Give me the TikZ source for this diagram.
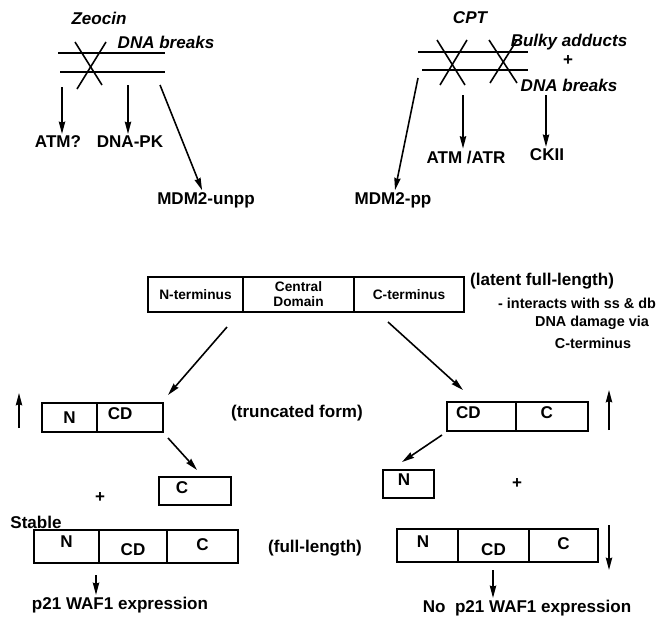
\documentclass[tikz,border=0pt]{standalone}
\usepackage{fontspec}
\setmainfont{Liberation Sans}
\usetikzlibrary{positioning,arrows.meta}

\newcommand{\unitpx}{0.02cm}

\tikzset{
  lbl/.style={font=\fontsize{9.7}{11}\selectfont\bfseries, inner sep=1pt},
  agent/.style={font=\fontsize{9.7}{11}\selectfont\bfseries\itshape, inner sep=1pt},
  note/.style={font=\fontsize{8.2}{10}\selectfont\bfseries, inner sep=1pt},
  seg/.style={draw, line width=1.1pt, inner sep=0pt, outer sep=0pt,
    font=\fontsize{9.7}{11}\selectfont\bfseries},
  domseg/.style={seg, minimum height=35*\unitpx, align=center,
    font=\fontsize{7.8}{8.6}\selectfont\bfseries},
  strand/.style={line width=0.9pt},
  arr/.style={line width=0.9pt, -{Stealth[length=7pt,width=3.6pt,inset=0.6pt]}},
}

\begin{document}
\begin{tikzpicture}[x=\unitpx, y=-\unitpx]
  \useasboundingbox (0,0) rectangle (662,622);

  % zeocin: double strand break
  \node[agent] (zeo) at (99,18) {Zeocin};
  \node[agent] (brkL) at (166,42) {DNA breaks};
  \draw[strand] (58,53) -- (165,53);
  \draw[strand] (60,72) -- (165,72);
  \draw[strand] (75,42) -- (102,85);
  \draw[strand] (106,42) -- (77,89);

  \coordinate (atmS) at (62,87);
  \coordinate (pkS) at (128,85);
  \coordinate (unppS) at (160,85);
  \node[lbl] (atm) at (58,142) {ATM?};
  \node[lbl] (pk) at (130,142) {DNA-PK};
  \node[lbl] (unpp) at (206,200) {MDM2-unpp};
  \draw[arr] (atmS) -- (atmS |- atm.north);
  \draw[arr] (pkS) -- (pkS |- pk.north);
  \draw[arr] (unppS) -- (unpp);

  % CPT: adducts and breaks
  \node[agent] (cpt) at (470,18) {CPT};
  \node[agent] (bulky) at (569,42) {Bulky adducts};
  \node[lbl] (andR) at (568,61) {+};
  \node[agent] (brkR) at (569,85) {DNA breaks};
  \draw[strand] (418,52) -- (528,52);
  \draw[strand] (422,70) -- (528,70);
  \draw[strand] (437,40) -- (465,85);
  \draw[strand] (467,40) -- (440,85);
  \draw[strand] (489,40) -- (517,83);
  \draw[strand] (517,40) -- (490,83);

  \coordinate (ppS) at (418,78);
  \coordinate (atrS) at (463,95);
  \coordinate (ckS) at (546,95);
  \node[lbl] (pp) at (393,200) {MDM2-pp};
  \node[lbl] (atr) at (466,157) {ATM /ATR};
  \node[lbl] (ck) at (547,155) {CKII};
  \draw[arr] (ppS) -- (pp);
  \draw[arr] (atrS) -- (atrS |- atr.north);
  \draw[arr] (ckS) -- (ckS |- ck.north);

  % latent full-length protein
  \node[domseg, minimum width=95*\unitpx, anchor=west] (fN) at (148,294.5) {N-terminus};
  \node[domseg, minimum width=111*\unitpx, right=0pt of fN] (fCD) {Central\\Domain};
  \node[domseg, minimum width=110*\unitpx, right=0pt of fCD] (fC) {C-terminus};
  \node[lbl, anchor=west] (latent) at (468,281) {(latent full-length)};
  \node[note, anchor=east] (inter) at (658,303) {- interacts with ss \& db};
  \node[note] (dmg) at (592,323) {DNA damage via};
  \node[note] (viaC) at (593,343) {C-terminus};

  \coordinate (splitL) at (227,327);
  \coordinate (splitLe) at (168,395);
  \coordinate (splitR) at (388,322);
  \coordinate (splitRe) at (463,390);
  \draw[arr] (splitL) -- (splitLe);
  \draw[arr] (splitR) -- (splitRe);

  % truncated forms
  \node[seg, minimum width=55*\unitpx, minimum height=29*\unitpx, anchor=west] (tN) at (42,417.5) {N};
  \node[seg, minimum width=66*\unitpx, minimum height=29*\unitpx, right=0pt of tN,
    label={[lbl, anchor=west, xshift=5pt, yshift=2pt]west:CD}] (tCD) {};
  \node[lbl] (trunc) at (297,413) {(truncated form)};
  \node[seg, minimum width=69*\unitpx, minimum height=29*\unitpx, anchor=west,
    label={[lbl, anchor=west, xshift=4pt, yshift=2pt]west:CD}] (uCD) at (447,416.5) {};
  \node[seg, minimum width=72*\unitpx, minimum height=29*\unitpx, right=0pt of uCD,
    label={[lbl, xshift=-3pt, yshift=2pt]center:C}] (uC) {};

  \coordinate (upL0) at (19,428);
  \coordinate (upL1) at (19,393);
  \coordinate (upR0) at (609,430);
  \coordinate (upR1) at (609,390);
  \draw[arr] (upL0) -- (upL1);
  \draw[arr] (upR0) -- (upR1);

  % cleaved fragments
  \node[seg, minimum width=72*\unitpx, minimum height=28*\unitpx,
    label={[lbl, xshift=-7.4pt, yshift=1.7pt]center:C}] (fragC) at (195,491) {};
  \node[seg, minimum width=51*\unitpx, minimum height=28*\unitpx,
    label={[lbl, xshift=-2.5pt, yshift=2.3pt]center:N}] (fragN) at (408.5,484) {};
  \node[lbl] (plusL) at (100,497) {+};
  \node[lbl] (plusR) at (517,483) {+};

  \coordinate (cutL) at (168,438);
  \coordinate (cutLe) at (197,470);
  \coordinate (cutR) at (442,435);
  \coordinate (cutRe) at (402,462);
  \draw[arr] (cutL) -- (cutLe);
  \draw[arr] (cutR) -- (cutRe);

  % full-length forms
  \node[lbl] (stable) at (36,522) {Stable};
  \node[seg, minimum width=65*\unitpx, minimum height=33*\unitpx, anchor=west,
    label={[lbl, yshift=2.5pt]center:N}] (sN) at (34,546.5) {};
  \node[seg, minimum width=68*\unitpx, minimum height=33*\unitpx, right=0pt of sN,
    label={[lbl, yshift=-2pt]center:CD}] (sCD) {};
  \node[seg, minimum width=71*\unitpx, minimum height=33*\unitpx, right=0pt of sCD,
    label={[lbl, yshift=1pt]center:C}] (sC) {};
  \node[lbl] (full) at (315,548) {(full-length)};

  \node[seg, minimum width=61*\unitpx, minimum height=33*\unitpx, anchor=west,
    label={[lbl, xshift=-2.5pt, yshift=2pt]center:N}] (dN) at (397,545.5) {};
  \node[seg, minimum width=71*\unitpx, minimum height=33*\unitpx, right=0pt of dN,
    label={[lbl, yshift=-2.5pt]center:CD}] (dCD) {};
  \node[seg, minimum width=69*\unitpx, minimum height=33*\unitpx, right=0pt of dCD,
    label={[lbl, yshift=1pt]center:C}] (dC) {};

  \coordinate (dnR0) at (609,525);
  \coordinate (dnR1) at (609,570);
  \draw[arr] (dnR0) -- (dnR1);

  % outcome
  \coordinate (expS) at (96,575);
  \coordinate (noexpS) at (493,570);
  \node[lbl] (exp) at (120,605) {p21 WAF1 expression};
  \node[lbl] (noexp) at (527,608) {No\ \ p21 WAF1 expression};
  \draw[arr] (expS) -- (expS |- exp.north);
  \draw[arr] (noexpS) -- (noexpS |- noexp.north);
\end{tikzpicture}
\end{document}
